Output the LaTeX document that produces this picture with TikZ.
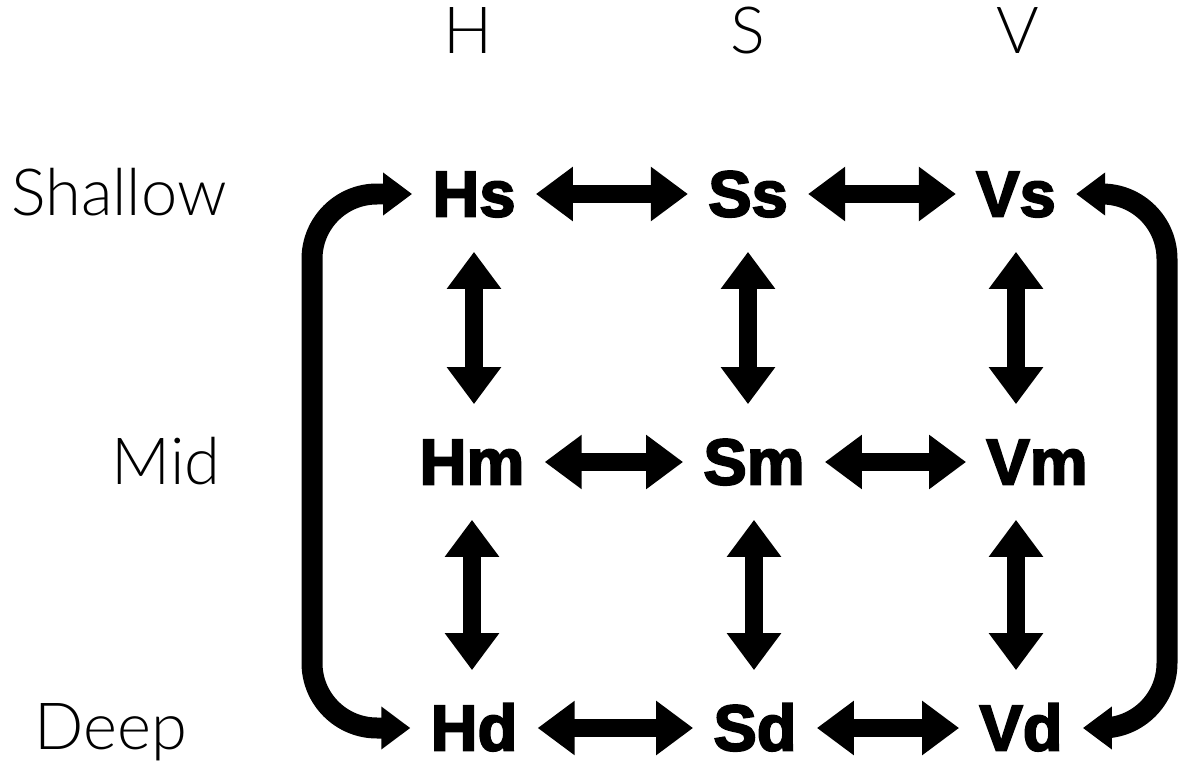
\documentclass[tikz,border=0pt]{standalone}
\usepackage{fontspec}
\usetikzlibrary{arrows.meta}
\newfontfamily\lightfont{Lato Light}
\newfontfamily\heavyfont{Liberation Sans Bold}[FakeBold=3]

\tikzset{
  label/.style={font=\lightfont\fontsize{37}{40}\selectfont, text height=0.9cm, text depth=0pt, inner sep=0pt},
  box/.style={font=\heavyfont\fontsize{37}{40}\selectfont, text height=0.9cm, text depth=0pt, inner xsep=0.4cm, inner ysep=0.7cm},
  dbl/.style={line width=0.36cm, {Triangle[length=0.74cm,width=1.04cm]}-{Triangle[length=0.74cm,width=1.04cm]}},
  side/.style={line width=0.42cm, rounded corners=1.3cm, {Triangle[length=0.58cm,width=0.82cm]}-{Triangle[length=0.58cm,width=0.82cm]}}
}

\begin{document}
\begin{tikzpicture}[x=0.02cm,y=-0.02cm]
\useasboundingbox (0,0) rectangle (1191,767);
% column and row labels
\node[label] (colH) at (468,31) {H};
\node[label] (colS) at (748,31) {S};
\node[label] (colV) at (1018,31) {V};
\node[label] (shal) at (119,193) {Shallow};
\node[label] (mid) at (166,462) {Mid};
\node[label] (deep) at (111,727) {Deep};

% the nine boxes
\node[box] (Hs) at (474,194) {Hs};
\node[box] (Ss) at (748,194) {Ss};
\node[box] (Vs) at (1016,194) {Vs};
\node[box] (Hm) at (472,462) {Hm};
\node[box] (Sm) at (754,462) {Sm};
\node[box] (Vm) at (1037,462) {Vm};
\node[box] (Hd) at (474,728) {Hd};
\node[box] (Sd) at (755,728) {Sd};
\node[box] (Vd) at (1021,728) {Vd};

% horizontal arrows
\draw[dbl] (Hs) -- (Ss);
\draw[dbl] (Ss) -- (Vs);
\draw[dbl] (Hm) -- (Sm);
\draw[dbl] (Sm) -- (Vm);
\draw[dbl] (Hd) -- (Sd);
\draw[dbl] (Sd) -- (Vd);

% vertical arrows
\draw[dbl] (Hs.south) -- (Hs.south |- Hm.north);
\draw[dbl] (Ss.south) -- (Ss.south |- Sm.north);
\draw[dbl] (Vs.south) -- (Vs.south |- Vm.north);
\draw[dbl] (Hm.south) -- (Hm.south |- Hd.north);
\draw[dbl] (Sm.south) -- (Sm.south |- Sd.north);
\draw[dbl] (Vs.south |- Vm.south) -- (Vs.south |- Vd.north);

% side arrows
\coordinate (lft) at (312,460);
\coordinate (rgt) at (1167,460);
\draw[side] (Hs.west) -| (lft) |- (Hd.west);
\draw[side] (Vs.east) -| (rgt) |- (Vd.east);
\end{tikzpicture}
\end{document}
